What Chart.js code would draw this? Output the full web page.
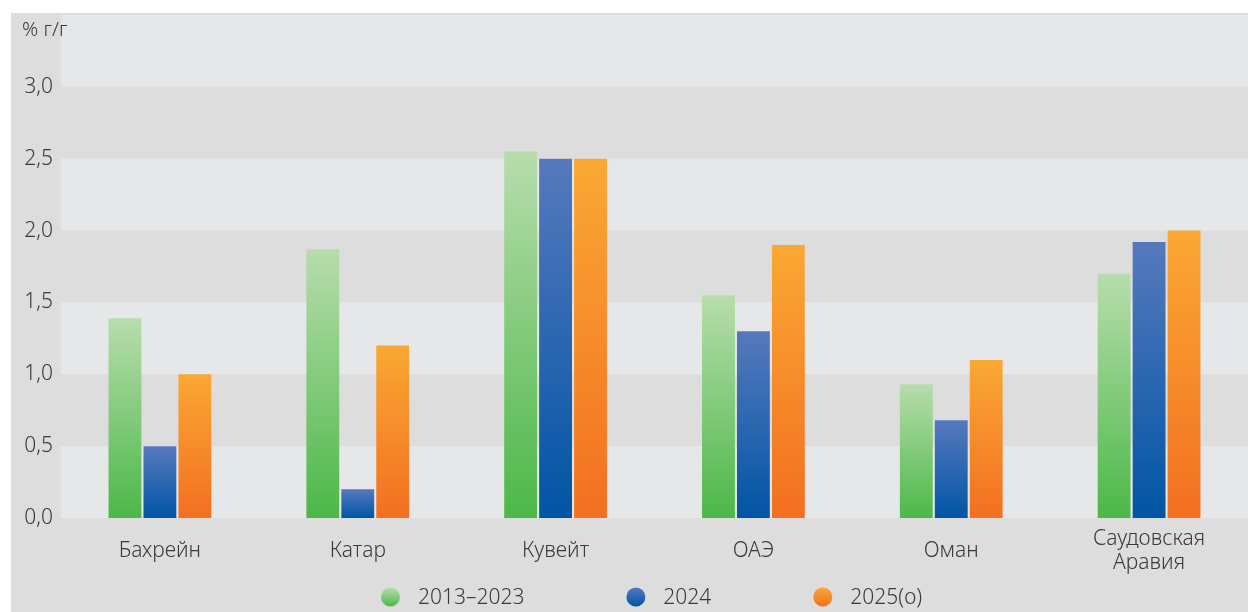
<!DOCTYPE html>
<html lang="ru">
<head>
<meta charset="utf-8">
<title>Рост, % г/г</title>
<script src="https://cdn.jsdelivr.net/npm/chart.js@4"></script>
<style>
  html, body { margin: 0; padding: 0; background: #ffffff; }
  #wrap { position: absolute; left: 11px; top: 13px; width: 1237px; height: 599px; background: #dddddd; }
</style>
</head>
<body>
<div id="wrap"><canvas id="chart"></canvas></div>
<script>
// --- data ---
const countries = ["Бахрейн", "Катар", "Кувейт", "ОАЭ", "Оман", ["Саудовская", "Аравия"]]
const seriesNames = ["2013–2023", "2024", "2025(о)"]
const avg2013to2023 = [1.39, 1.87, 2.55, 1.55, 0.93, 1.70]
const values2024 = [0.50, 0.20, 2.50, 1.30, 0.68, 1.92]
const values2025f = [1.00, 1.20, 2.50, 1.90, 1.10, 2.00]
const yTicks = [0, 0.5, 1, 1.5, 2, 2.5, 3, 3.5]

// top / bottom gradient stops per series
const GRADIENTS = [
  ["#b7ddac", "#4cb848"],
  ["#5679bd", "#0055a5"],
  ["#faa834", "#f36f21"],
]
const FONT = "'Noto Sans', sans-serif"
const TEXT = "#3a3a3a"

// vertical gradient spanning each bar from its top to the zero line
function barFill(idx) {
  return (ctx) => {
    const chart = ctx.chart
    const y = chart.scales.y
    if (!y || ctx.raw == null) return GRADIENTS[idx][1]
    const top = y.getPixelForValue(ctx.raw)
    const base = y.getPixelForValue(0)
    if (!isFinite(top) || !isFinite(base) || top === base) return GRADIENTS[idx][1]
    const g = chart.ctx.createLinearGradient(0, top, 0, base)
    g.addColorStop(0, GRADIENTS[idx][0])
    g.addColorStop(1, GRADIENTS[idx][1])
    return g
  }
}

// alternating horizontal bands behind the bars
const bandsPlugin = {
  id: "bands",
  beforeDatasetsDraw(chart) {
    const { ctx, chartArea } = chart
    const y = chart.scales.y
    ctx.save()
    ctx.fillStyle = "#e6e7e9"
    for (let i = 0; i < yTicks.length - 1; i++) {
      if (i % 2 !== 0) continue
      const top = y.getPixelForValue(yTicks[i + 1])
      const bottom = y.getPixelForValue(yTicks[i])
      ctx.fillRect(chartArea.left, top, chartArea.right - chartArea.left, bottom - top)
    }
    ctx.restore()
  },
}

// unit label + round-dot legend at the bottom
const extrasPlugin = {
  id: "extras",
  afterDraw(chart) {
    const { ctx, chartArea } = chart
    ctx.save()
    ctx.font = "300 20px " + FONT
    ctx.fillStyle = TEXT
    ctx.textBaseline = "middle"
    ctx.textAlign = "left"
    ctx.fillText("% г/г", 11, 17)

    ctx.font = "300 21px " + FONT
    const r = 9.5, textGap = 27.5, itemGap = 111.5
    const items = chart.data.datasets.map((ds, i) => ({
      label: ds.label, idx: i, w: textGap + ctx.measureText(ds.label).width,
    }))
    const total = items.reduce((s, it) => s + it.w, 0) + itemGap * (items.length - 1) + r
    let x = (chartArea.left + chartArea.right) / 2 - 3 - total / 2 + r
    const cy = 584
    for (const it of items) {
      const g = ctx.createLinearGradient(0, cy - r, 0, cy + r)
      g.addColorStop(0, GRADIENTS[it.idx][0])
      g.addColorStop(1, GRADIENTS[it.idx][1])
      ctx.beginPath()
      ctx.arc(x, cy, r, 0, Math.PI * 2)
      ctx.fillStyle = g
      ctx.fill()
      ctx.fillStyle = TEXT
      ctx.fillText(it.label, x + textGap, cy + 1)
      x += it.w + itemGap
    }
    ctx.restore()
  },
}

const datasets = [avg2013to2023, values2024, values2025f].map((data, i) => ({
  label: seriesNames[i],
  data,
  backgroundColor: barFill(i),
  borderWidth: 0,
  barPercentage: 0.94,
  categoryPercentage: 0.53,
}))

new Chart(document.getElementById("chart"), {
  type: "bar",
  data: { labels: countries, datasets },
  plugins: [bandsPlugin, extrasPlugin],
  options: {
    responsive: true,
    maintainAspectRatio: false,
    animation: false,
    layout: { padding: { top: 2, right: 0, left: 0, bottom: 4 } },
    plugins: { legend: { display: false }, tooltip: { enabled: false } },
    scales: {
      x: {
        grid: { display: false, drawTicks: false },
        border: { display: false },
        ticks: {
          color: TEXT,
          font: { family: FONT, size: 21, weight: 300, lineHeight: 1.143 },
          padding: 21,
          crossAlign: "center",
          maxRotation: 0,
          autoSkip: false,
        },
        afterFit: (s) => { s.paddingLeft = 0; s.paddingRight = 0 },
      },
      y: {
        min: 0,
        max: 3.5,
        grid: { display: false, drawTicks: false },
        border: { display: false },
        ticks: {
          stepSize: 0.5,
          color: TEXT,
          padding: 8,
          font: { family: FONT, size: 21, weight: 300 },
          callback: (v) => (v >= 3.5 ? "" : v.toFixed(1).replace(".", ",")),
        },
        afterFit: (s) => { s.width = 50; s.paddingTop = 0; s.paddingBottom = 0 },
      },
    },
  },
})
</script>
</body>
</html>
